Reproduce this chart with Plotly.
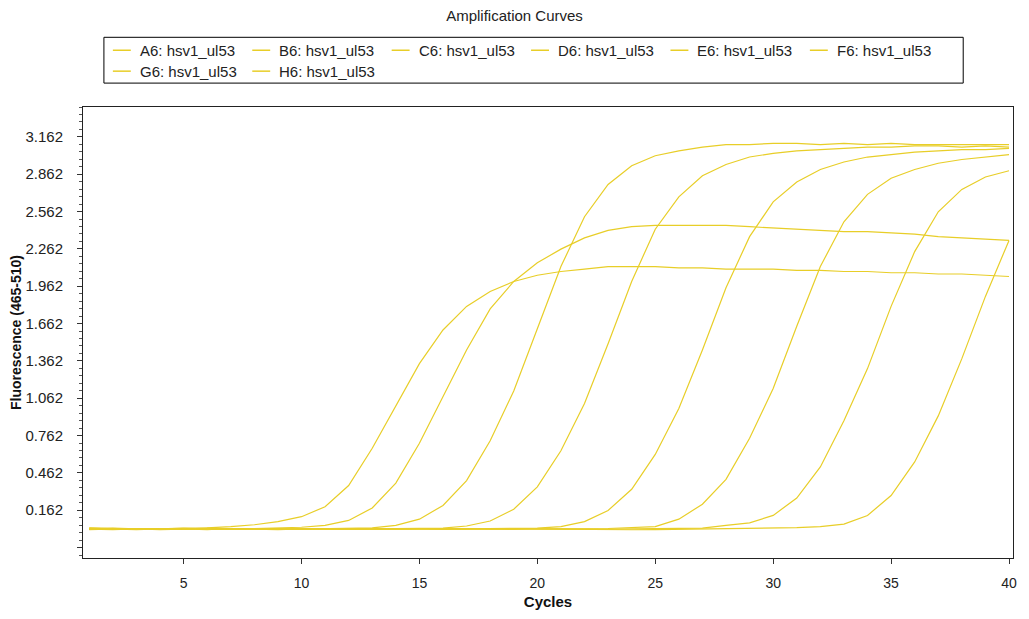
import plotly.graph_objects as go

# ---------------- data ----------------
cycles = list(range(1, 41))

labels = ["A6: hsv1_ul53", "B6: hsv1_ul53", "C6: hsv1_ul53", "D6: hsv1_ul53",
          "E6: hsv1_ul53", "F6: hsv1_ul53", "G6: hsv1_ul53", "H6: hsv1_ul53"]

a6 = [0.020, 0.015, 0.010, 0.012, 0.015, 0.020, 0.030, 0.045, 0.070, 0.110,
      0.190, 0.360, 0.660, 1.000, 1.340, 1.610, 1.800, 1.920, 2.000, 2.050,
      2.080, 2.100, 2.120, 2.120, 2.120, 2.110, 2.110, 2.100, 2.100, 2.100,
      2.090, 2.090, 2.080, 2.080, 2.070, 2.070, 2.060, 2.060, 2.050, 2.040]

b6 = [0.010, 0.005, 0.012, 0.010, 0.015, 0.012, 0.010, 0.015, 0.018, 0.025,
      0.040, 0.080, 0.180, 0.380, 0.700, 1.080, 1.450, 1.780, 2.000, 2.150,
      2.260, 2.350, 2.410, 2.440, 2.450, 2.450, 2.450, 2.450, 2.440, 2.430,
      2.420, 2.410, 2.400, 2.400, 2.390, 2.380, 2.360, 2.350, 2.340, 2.330]

c6 = [0.015, 0.010, 0.005, 0.012, 0.018, 0.010, 0.008, 0.012, 0.015, 0.010,
      0.012, 0.015, 0.020, 0.040, 0.090, 0.200, 0.400, 0.720, 1.120, 1.620,
      2.120, 2.520, 2.780, 2.930, 3.010, 3.050, 3.080, 3.100, 3.100, 3.110,
      3.110, 3.100, 3.110, 3.100, 3.110, 3.100, 3.100, 3.100, 3.100, 3.100]

d6 = [0.008, 0.015, 0.012, 0.005, 0.010, 0.018, 0.012, 0.010, 0.015, 0.012,
      0.008, 0.010, 0.012, 0.015, 0.012, 0.018, 0.035, 0.075, 0.170, 0.350,
      0.640, 1.020, 1.500, 2.000, 2.420, 2.680, 2.850, 2.940, 3.000, 3.030,
      3.050, 3.060, 3.070, 3.080, 3.080, 3.090, 3.090, 3.080, 3.090, 3.080]

e6 = [0.012, 0.008, 0.015, 0.010, 0.012, 0.005, 0.015, 0.012, 0.010, 0.008,
      0.015, 0.012, 0.010, 0.012, 0.015, 0.010, 0.012, 0.015, 0.012, 0.018,
      0.030, 0.070, 0.160, 0.330, 0.610, 0.980, 1.450, 1.950, 2.360, 2.640,
      2.800, 2.900, 2.960, 3.000, 3.020, 3.040, 3.050, 3.060, 3.060, 3.070]

f6 = [0.018, 0.012, 0.008, 0.015, 0.010, 0.012, 0.015, 0.010, 0.005, 0.012,
      0.015, 0.010, 0.012, 0.008, 0.010, 0.012, 0.015, 0.010, 0.008, 0.012,
      0.010, 0.012, 0.015, 0.020, 0.030, 0.090, 0.210, 0.410, 0.740, 1.140,
      1.640, 2.120, 2.480, 2.700, 2.830, 2.900, 2.950, 2.980, 3.000, 3.020]

g6 = [0.005, 0.010, 0.015, 0.012, 0.008, 0.015, 0.010, 0.012, 0.015, 0.010,
      0.012, 0.008, 0.010, 0.012, 0.010, 0.008, 0.012, 0.010, 0.015, 0.012,
      0.010, 0.008, 0.010, 0.012, 0.015, 0.012, 0.018, 0.040, 0.060, 0.120,
      0.260, 0.510, 0.880, 1.300, 1.800, 2.240, 2.560, 2.740, 2.840, 2.890]

h6 = [0.010, 0.018, 0.012, 0.010, 0.015, 0.012, 0.008, 0.012, 0.010, 0.015,
      0.010, 0.012, 0.008, 0.010, 0.012, 0.010, 0.008, 0.010, 0.012, 0.010,
      0.008, 0.005, 0.008, 0.005, 0.006, 0.008, 0.010, 0.012, 0.015, 0.018,
      0.022, 0.030, 0.050, 0.120, 0.280, 0.550, 0.920, 1.380, 1.880, 2.330]

series = [a6, b6, c6, d6, e6, f6, g6, h6]

ytick_vals = [-0.138, 0.162, 0.462, 0.762, 1.062, 1.362, 1.662, 1.962,
              2.262, 2.562, 2.862, 3.162]
ytick_text = ["", "0.162", "0.462", "0.762", "1.062", "1.362", "1.662",
              "1.962", "2.262", "2.562", "2.862", "3.162"]
xtick_vals = [5, 10, 15, 20, 25, 30, 35, 40]

title_text = "Amplification Curves"
x_title = "Cycles"
y_title = "Fluorescence (465-510)"

# ---------------- layout geometry ----------------
W, H = 1029, 619
L, R, T, B = 83, 1017, 107, 560
LINE_COLOR = "rgb(232,206,40)"
FONT = "Liberation Sans, Arial, sans-serif"


def px(x):
    return (x - L) / (R - L)


def py(y):
    return (B - y) / (B - T)


fig = go.Figure()
for lab, ys in zip(labels, series):
    fig.add_trace(go.Scatter(
        x=cycles, y=ys, mode="lines", name=lab, showlegend=False,
        line=dict(color=LINE_COLOR, width=1.2),
    ))

shapes = []
annotations = []

# legend box
shapes.append(dict(type="rect", xref="paper", yref="paper",
                   x0=px(104), x1=px(967), y0=py(83), y1=py(37),
                   line=dict(color="black", width=1), fillcolor="white", layer="above"))
for i, lab in enumerate(labels):
    row, col = divmod(i, 6)
    cy = 50 + 21 * row
    lx = 113 + 140 * col
    shapes.append(dict(type="line", xref="paper", yref="paper",
                       x0=px(lx), x1=px(lx + 18), y0=py(cy), y1=py(cy),
                       line=dict(color=LINE_COLOR, width=1.5), layer="above"))
    annotations.append(dict(text=lab, xref="paper", yref="paper",
                            x=px(lx + 25), y=py(cy), xanchor="left", yanchor="middle",
                            showarrow=False, font=dict(family=FONT, size=15, color="#222")))

fig.update_layout(
    width=W, height=H,
    margin=dict(l=L, r=W - R, t=T, b=H - B),
    paper_bgcolor="white", plot_bgcolor="white",
    title=dict(text=title_text, x=0.5, xref="container", xanchor="center",
               y=1 - 16 / H, yref="container", yanchor="middle",
               font=dict(family=FONT, size=15, color="#222")),
    shapes=shapes, annotations=annotations,
    font=dict(family=FONT, color="#222"),
    xaxis=dict(range=[0.736, 40.169], tickmode="array", tickvals=xtick_vals,
               ticks="outside", ticklen=5, tickcolor="#333", ticklabelstandoff=7,
               showline=True, linecolor="#222", linewidth=1, mirror=True,
               showgrid=False, zeroline=False,
               tickfont=dict(family=FONT, size=14, color="#222"),
               title=dict(text="<b>" + x_title + "</b>", standoff=6,
                          font=dict(family=FONT, size=15, color="#111"))),
    yaxis=dict(range=[-0.222, 3.402], tickmode="array", tickvals=ytick_vals,
               ticktext=ytick_text, ticks="outside", ticklen=5, tickcolor="#333",
               ticklabelstandoff=11,
               minor=dict(tickmode="linear", tick0=0.162, dtick=0.06,
                          ticks="outside", ticklen=3, tickcolor="#555"),
               showline=True, linecolor="#222", linewidth=1, mirror=True,
               showgrid=False, zeroline=False,
               tickfont=dict(family=FONT, size=15, color="#222"),
               title=dict(text="<b>" + y_title + "</b>", standoff=0,
                          font=dict(family=FONT, size=14, color="#111"))),
)

fig.write_html("out.html")
